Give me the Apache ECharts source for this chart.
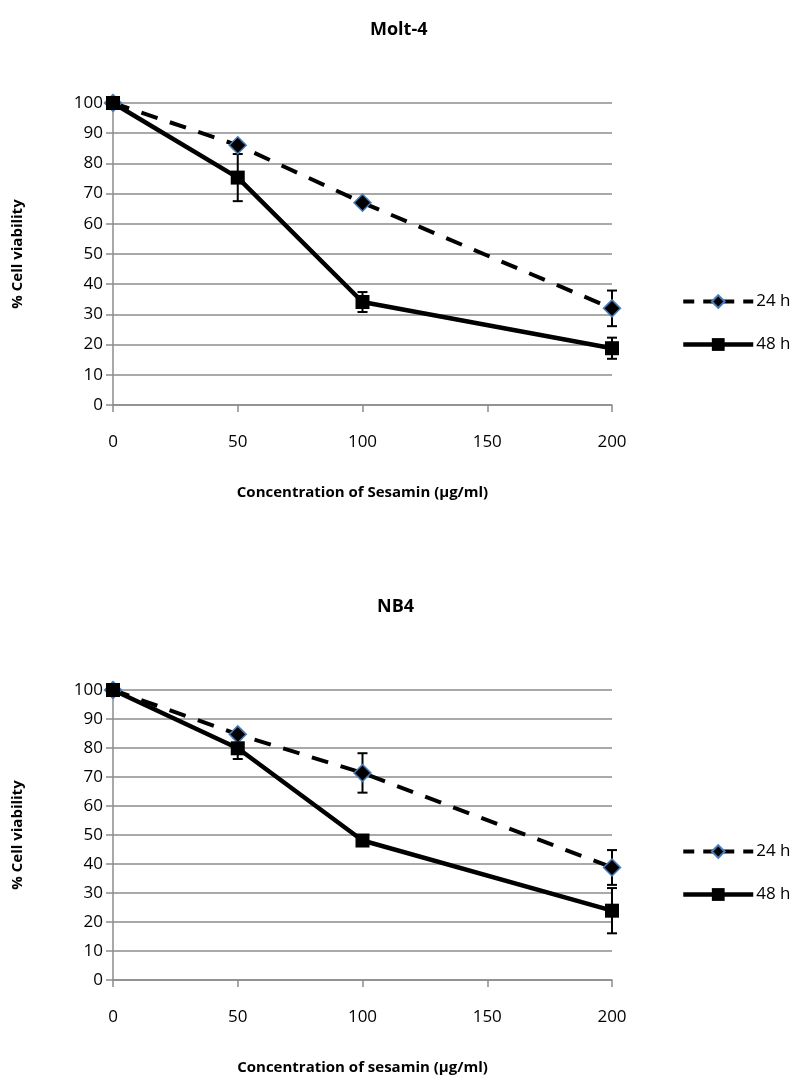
<!DOCTYPE html>
<html>
<head>
<meta charset="utf-8">
<script src="https://cdn.jsdelivr.net/npm/echarts@6/dist/echarts.min.js"></script>
<style>html,body{margin:0;padding:0;background:#fff;}#c{width:796px;height:1076px;}</style>
</head>
<body>
<div id="c"></div>
<script>
// Data
var concentrations = [0, 50, 100, 200];
var xTicks = [0, 50, 100, 150, 200];
var yTicks = [0, 10, 20, 30, 40, 50, 60, 70, 80, 90, 100];
var titles = ['Molt-4', 'NB4'];
var xNames = ['Concentration of Sesamin (µg/ml)', 'Concentration of sesamin (µg/ml)'];
var seriesNames = ['24 h', '48 h'];
// Molt-4
var molt24 = [100, 86, 67, 32];
var molt24Err = [0.5, 1, 1, 5.9];
var molt48 = [100, 75.3, 34.1, 18.8];
var molt48Err = [0.5, 7.8, 3.3, 3.5];
// NB4
var nb24 = [100, 84.7, 71.4, 38.8];
var nb24Err = [0.5, 1, 6.8, 6];
var nb48 = [100, 79.9, 48.1, 23.9];
var nb48Err = [0.5, 3.7, 1, 7.8];

var FONT = "'Open Sans', sans-serif";
var AXIS_COLOR = '#8C8C8C';
var BLUE = '#4A7EBB';

function pairs(vals) { return concentrations.map(function (c, i) { return [c, vals[i]]; }); }
function errs(vals, e) { return concentrations.map(function (c, i) { return [c, vals[i] - e[i], vals[i] + e[i]]; }); }

function errSeries(idx, vals, e) {
  return {
    type: 'custom', xAxisIndex: idx, yAxisIndex: idx, z: 1, silent: true,
    data: errs(vals, e),
    encode: { x: 0, y: [1, 2] },
    renderItem: function (params, api) {
      var x = api.value(0);
      var lo = api.coord([x, api.value(1)]);
      var hi = api.coord([x, api.value(2)]);
      var w = 5;
      var st = { stroke: '#000', lineWidth: 2 };
      return {
        type: 'group', children: [
          { type: 'line', shape: { x1: lo[0], y1: lo[1], x2: hi[0], y2: hi[1] }, style: st },
          { type: 'line', shape: { x1: lo[0] - w, y1: lo[1], x2: lo[0] + w, y2: lo[1] }, style: st },
          { type: 'line', shape: { x1: hi[0] - w, y1: hi[1], x2: hi[0] + w, y2: hi[1] }, style: st }
        ]
      };
    }
  };
}

function lineSeries(idx, name, vals, dashed) {
  return {
    type: 'line', name: name, xAxisIndex: idx, yAxisIndex: idx, z: 3,
    data: pairs(vals),
    symbol: dashed ? 'diamond' : 'rect',
    symbolSize: dashed ? 17 : 14,
    lineStyle: { color: '#000', width: dashed ? 4 : 4.5, type: dashed ? [17, 13] : 'solid', cap: 'butt' },
    itemStyle: dashed ? { color: '#000', borderColor: BLUE, borderWidth: 1.5 } : { color: '#000', borderWidth: 0 },
    emphasis: { disabled: true },
    animation: false
  };
}

var grids = [
  { left: 113, top: 103, width: 499, height: 302 },
  { left: 113, top: 690, width: 499, height: 290 }
];

function xAxis(idx) {
  return {
    type: 'value', gridIndex: idx, min: 0, max: 200, interval: 50,
    name: xNames[idx], nameLocation: 'middle', nameGap: 80,
    nameTextStyle: { fontFamily: FONT, fontSize: 15, fontWeight: 'bold', color: '#000' },
    axisLine: { show: true, lineStyle: { color: AXIS_COLOR, width: 1.5 } },
    axisTick: { show: true, length: 7, lineStyle: { color: AXIS_COLOR, width: 1.5 } },
    axisLabel: { margin: 29, fontFamily: FONT, fontSize: 17, color: '#000',
      formatter: function (v) { return xTicks.indexOf(v) >= 0 ? String(v) : ''; } },
    splitLine: { show: false }
  };
}
function yAxis(idx) {
  return {
    type: 'value', gridIndex: idx, min: 0, max: 100, interval: 10,
    name: '% Cell viability', nameLocation: 'middle', nameGap: 88, nameRotate: 90,
    nameTextStyle: { fontFamily: FONT, fontSize: 15, fontWeight: 'bold', color: '#000' },
    axisLine: { show: true, lineStyle: { color: AXIS_COLOR, width: 1.5 } },
    axisTick: { show: true, inside: false, length: 7, lineStyle: { color: AXIS_COLOR, width: 1.5 } },
    axisLabel: { margin: 10, fontFamily: FONT, fontSize: 17, color: '#000',
      formatter: function (v) { return yTicks.indexOf(v) >= 0 ? String(v) : ''; } },
    splitLine: { show: true, lineStyle: { color: AXIS_COLOR, width: 1.5 } }
  };
}

function legend(top) {
  return {
    data: [
      { name: seriesNames[0], lineStyle: { width: 4, type: [11, 9] } },
      { name: seriesNames[1], lineStyle: { width: 4.5, type: 'solid' } }
    ],
    orient: 'vertical', left: 676, top: top, itemGap: 26,
    itemWidth: 70, itemHeight: 16,
    textStyle: { fontFamily: FONT, fontSize: 17, color: '#000', padding: [0, 0, 0, -2] },
    selectedMode: false
  };
}

var chart = echarts.init(document.getElementById('c'), null, { renderer: 'canvas' });
var option = {
  animation: false,
  title: [
    { text: titles[0], left: 365, top: 16,
      textStyle: { fontFamily: FONT, fontSize: 18, fontWeight: 'bold', color: '#000' } },
    { text: titles[1], left: 372, top: 593,
      textStyle: { fontFamily: FONT, fontSize: 18, fontWeight: 'bold', color: '#000' } }
  ],
  legend: [legend(288), legend(838)],
  grid: grids,
  xAxis: [xAxis(0), xAxis(1)],
  yAxis: [yAxis(0), yAxis(1)],
  series: [
    errSeries(0, molt24, molt24Err),
    errSeries(0, molt48, molt48Err),
    lineSeries(0, '24 h', molt24, true),
    lineSeries(0, '48 h', molt48, false),
    errSeries(1, nb24, nb24Err),
    errSeries(1, nb48, nb48Err),
    lineSeries(1, '24 h', nb24, true),
    lineSeries(1, '48 h', nb48, false)
  ]
};
chart.setOption(option);
</script>
</body>
</html>
